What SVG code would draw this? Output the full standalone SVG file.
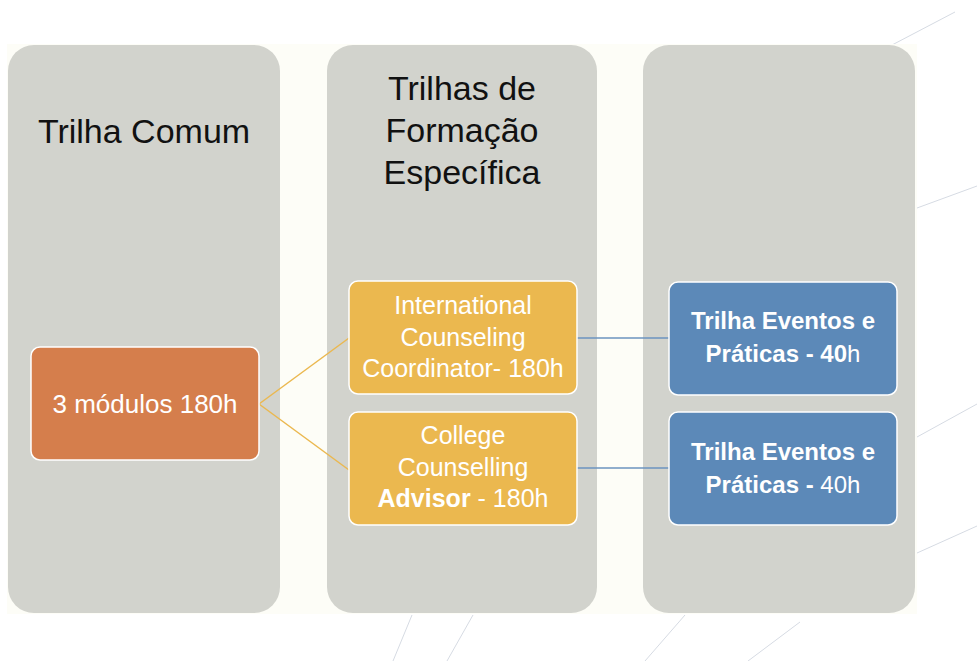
<svg xmlns="http://www.w3.org/2000/svg" width="977" height="661" viewBox="0 0 977 661">
<style>
.deco{stroke:#d6dbe3;stroke-width:1;fill:none}
.panel{fill:#d2d3cd}
.title{font-family:"Liberation Sans",Arial,sans-serif;font-size:34px;fill:#111;text-anchor:middle}
.box{stroke:#ffffff;stroke-width:1.5}
.t{font-family:"Liberation Sans",Arial,sans-serif;fill:#ffffff;text-anchor:middle}
.b{font-weight:bold}
</style>
<rect x="0" y="0" width="977" height="661" fill="#ffffff"/>
<g id="decor">
<line class="deco" x1="892" y1="45" x2="955" y2="12"/>
<line class="deco" x1="917" y1="208" x2="977" y2="186"/>
<line class="deco" x1="917" y1="437" x2="977" y2="404"/>
<line class="deco" x1="917" y1="553" x2="977" y2="526"/>
<line class="deco" x1="412" y1="615" x2="393" y2="661"/>
<line class="deco" x1="473" y1="615" x2="447" y2="661"/>
<line class="deco" x1="685" y1="615" x2="645" y2="661"/>
<line class="deco" x1="800" y1="622" x2="748" y2="661"/>
</g>
<rect x="7" y="44" width="910" height="570" fill="#fdfdf7"/>
<g id="panel-trilha-comum">
<rect class="panel" x="8" y="45" width="272" height="568" rx="26"/>
<text class="title" x="144" y="143">Trilha Comum</text>
</g>
<g id="panel-trilhas-formacao">
<rect class="panel" x="327" y="45" width="270" height="568" rx="26"/>
<text class="title" x="462" y="100">Trilhas de</text>
<text class="title" x="462" y="142">Formação</text>
<text class="title" x="462" y="184">Específica</text>
</g>
<g id="panel-eventos">
<rect class="panel" x="643" y="45" width="272" height="568" rx="26"/>
</g>
<g id="connectors">
<line x1="259" y1="404" x2="349" y2="338" stroke="#ebb84f" stroke-width="1.5"/>
<line x1="259" y1="404" x2="349" y2="470" stroke="#ebb84f" stroke-width="1.5"/>
<line x1="577" y1="338" x2="669" y2="338" stroke="#6b93bf" stroke-width="1.5"/>
<line x1="577" y1="468" x2="669" y2="468" stroke="#6b93bf" stroke-width="1.5"/>
</g>
<g id="node-modulos">
<rect class="box" x="31" y="347" width="228" height="113" rx="9" fill="#d57e4c"/>
<text class="t" x="145" y="413" font-size="26">3 módulos 180h</text>
</g>
<g id="node-icc">
<rect class="box" x="349" y="281" width="228" height="113" rx="9" fill="#ebb84f"/>
<text class="t" x="463" y="314" font-size="25">International</text>
<text class="t" x="463" y="346" font-size="25">Counseling</text>
<text class="t" x="463" y="377" font-size="25">Coordinator- 180h</text>
</g>
<g id="node-cca">
<rect class="box" x="349" y="412" width="228" height="113" rx="9" fill="#ebb84f"/>
<text class="t" x="463" y="444" font-size="25">College</text>
<text class="t" x="463" y="476" font-size="25">Counselling</text>
<text class="t" x="463" y="507" font-size="25"><tspan class="b">Advisor</tspan> - 180h</text>
</g>
<g id="node-eventos-1">
<rect class="box" x="669" y="282" width="228" height="113" rx="9" fill="#5c89b8"/>
<text class="t b" x="783" y="329" font-size="24">Trilha Eventos e</text>
<text class="t" x="783" y="362" font-size="24"><tspan class="b">Práticas - 40</tspan>h</text>
</g>
<g id="node-eventos-2">
<rect class="box" x="669" y="412" width="228" height="113" rx="9" fill="#5c89b8"/>
<text class="t b" x="783" y="460" font-size="24">Trilha Eventos e</text>
<text class="t" x="783" y="493" font-size="24"><tspan class="b">Práticas -</tspan> 40h</text>
</g>
</svg>
